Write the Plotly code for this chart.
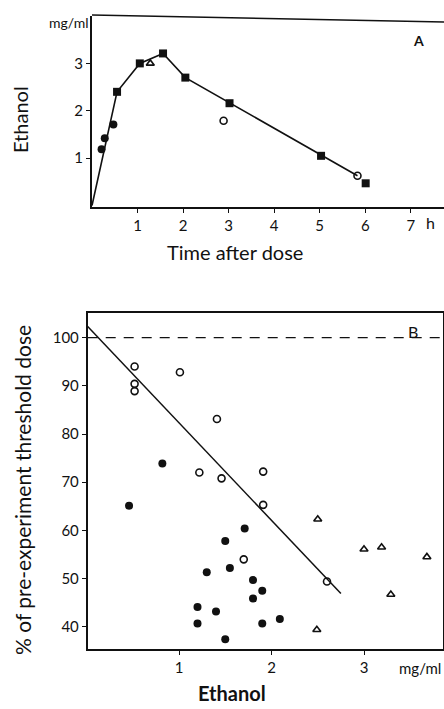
import plotly.graph_objects as go

# ---------- Panel A data ----------
a_sq_t = [0.55, 1.05, 1.56, 2.05, 3.02, 5.03, 6.01]
a_sq_c = [2.40, 3.00, 3.21, 2.70, 2.16, 1.05, 0.47]
a_fc_t = [0.21, 0.28, 0.47]
a_fc_c = [1.19, 1.42, 1.71]
a_oc_t = [2.89, 5.83]
a_oc_c = [1.79, 0.63]
a_tr_t = [1.28]
a_tr_c = [3.00]
a_line_t = [0.0, 0.55, 1.05, 1.56, 2.05, 5.83]
a_line_c = [0.0, 2.40, 3.00, 3.21, 2.70, 0.63]

# ---------- Panel B data ----------
b_oc_x = [0.52, 0.52, 0.52, 1.01, 1.41, 1.22, 1.46, 1.91, 1.91, 1.70, 2.60]
b_oc_y = [94.0, 90.4, 88.9, 92.8, 83.1, 72.0, 70.8, 72.2, 65.3, 54.0, 49.4]
b_fc_x = [0.82, 0.46, 1.71, 1.50, 1.55, 1.30, 1.80, 1.90, 1.80, 1.20, 1.40, 1.20, 1.90, 2.09, 1.50]
b_fc_y = [73.9, 65.1, 60.4, 57.8, 52.2, 51.3, 49.7, 47.5, 45.9, 44.1, 43.2, 40.7, 40.7, 41.6, 37.4]
b_tr_x = [2.50, 3.00, 3.19, 3.68, 3.29, 2.49]
b_tr_y = [62.3, 56.1, 56.5, 54.5, 46.7, 39.4]
b_fit_x = [0.013, 2.75]
b_fit_y = [102.3, 46.9]
b_ref_x = [0.013, 3.85]
b_ref_y = [100, 100]

W, H = 444, 709
FONT = "Lato"
BLK = "#111111"

def px(x):
    return x / W

def py(y):
    return 1 - y / H

fig = go.Figure()

# Panel A
fig.add_trace(go.Scatter(x=a_line_t, y=a_line_c, mode="lines",
                         line=dict(color=BLK, width=1.6), xaxis="x", yaxis="y", showlegend=False))
fig.add_trace(go.Scatter(x=a_sq_t, y=a_sq_c, mode="markers",
                         marker=dict(symbol="square", size=8, color=BLK), xaxis="x", yaxis="y", showlegend=False))
fig.add_trace(go.Scatter(x=a_fc_t, y=a_fc_c, mode="markers",
                         marker=dict(symbol="circle", size=8, color=BLK), xaxis="x", yaxis="y", showlegend=False))
fig.add_trace(go.Scatter(x=a_oc_t, y=a_oc_c, mode="markers",
                         marker=dict(symbol="circle-open", size=7, color=BLK, line=dict(width=1.6)),
                         xaxis="x", yaxis="y", showlegend=False))
fig.add_trace(go.Scatter(x=a_tr_t, y=a_tr_c, mode="markers",
                         marker=dict(symbol="triangle-up-open", size=7, color=BLK, line=dict(width=1.6)),
                         xaxis="x", yaxis="y", showlegend=False))

# Panel B
fig.add_trace(go.Scatter(x=b_ref_x, y=b_ref_y, mode="lines",
                         line=dict(color=BLK, width=1.3, dash="10px,8px"), xaxis="x2", yaxis="y2", showlegend=False))
fig.add_trace(go.Scatter(x=b_fit_x, y=b_fit_y, mode="lines",
                         line=dict(color=BLK, width=1.5), xaxis="x2", yaxis="y2", showlegend=False))
fig.add_trace(go.Scatter(x=b_oc_x, y=b_oc_y, mode="markers",
                         marker=dict(symbol="circle-open", size=7, color=BLK, line=dict(width=1.6)),
                         xaxis="x2", yaxis="y2", showlegend=False))
fig.add_trace(go.Scatter(x=b_fc_x, y=b_fc_y, mode="markers",
                         marker=dict(symbol="circle", size=8, color=BLK),
                         xaxis="x2", yaxis="y2", showlegend=False))
fig.add_trace(go.Scatter(x=b_tr_x, y=b_tr_y, mode="markers",
                         marker=dict(symbol="triangle-up-open", size=7, color=BLK, line=dict(width=1.6)),
                         xaxis="x2", yaxis="y2", showlegend=False))

axcommon = dict(showgrid=False, zeroline=False, showline=True, linecolor=BLK,
                ticks="outside", ticklen=4, tickcolor=BLK, tickwidth=1.2,
                tickfont=dict(family=FONT, size=15, color=BLK))

fig.update_layout(
    width=W, height=H, margin=dict(l=0, r=0, t=0, b=0),
    paper_bgcolor="white", plot_bgcolor="white",
    xaxis=dict(domain=[px(92), 1.0], range=[0, 7.73], tickvals=[1, 2, 3, 4, 5, 6, 7],
               anchor="y", linewidth=2, **axcommon),
    yaxis=dict(domain=[py(207), py(16)], range=[-0.03, 4.0], tickvals=[1, 2, 3],
               anchor="x", linewidth=2, **axcommon),
    xaxis2=dict(domain=[px(87.7), px(443)], range=[0.013, 3.854], tickvals=[1, 2, 3],
                anchor="y2", linewidth=1.8, mirror=True, **axcommon),
    yaxis2=dict(domain=[py(649), py(313)], range=[35.4, 105.1], tickvals=[40, 50, 60, 70, 80, 90, 100],
                anchor="x2", linewidth=1.8, mirror=True, **axcommon),
)

# top border of panel A
fig.add_shape(type="line", xref="paper", yref="paper", x0=px(92), x1=1.0, y0=py(15), y1=py(22),
              line=dict(color=BLK, width=1.5))

def ann(text, x, y, size, angle=0, bold=False, xanchor="center"):
    fig.add_annotation(text=f"<b>{text}</b>" if bold else text, x=px(x), y=py(y),
                       xref="paper", yref="paper", showarrow=False, textangle=angle,
                       xanchor=xanchor, yanchor="middle",
                       font=dict(family=FONT, size=size, color=BLK))

ann("mg/ml", 69, 23, 14)
ann("h", 430, 223, 16)
ann("A", 418, 40, 14, bold=True)
ann("Ethanol", 20, 120, 20, angle=-90)
ann("Time after dose", 235, 252, 20)

ann("B", 413, 332, 16)
ann("mg/ml", 420, 668, 15)
ann("% of pre-experiment threshold dose", 22, 490, 21, angle=-90)
ann("Ethanol", 232, 693, 20, bold=True)

fig.write_html("out.html")
